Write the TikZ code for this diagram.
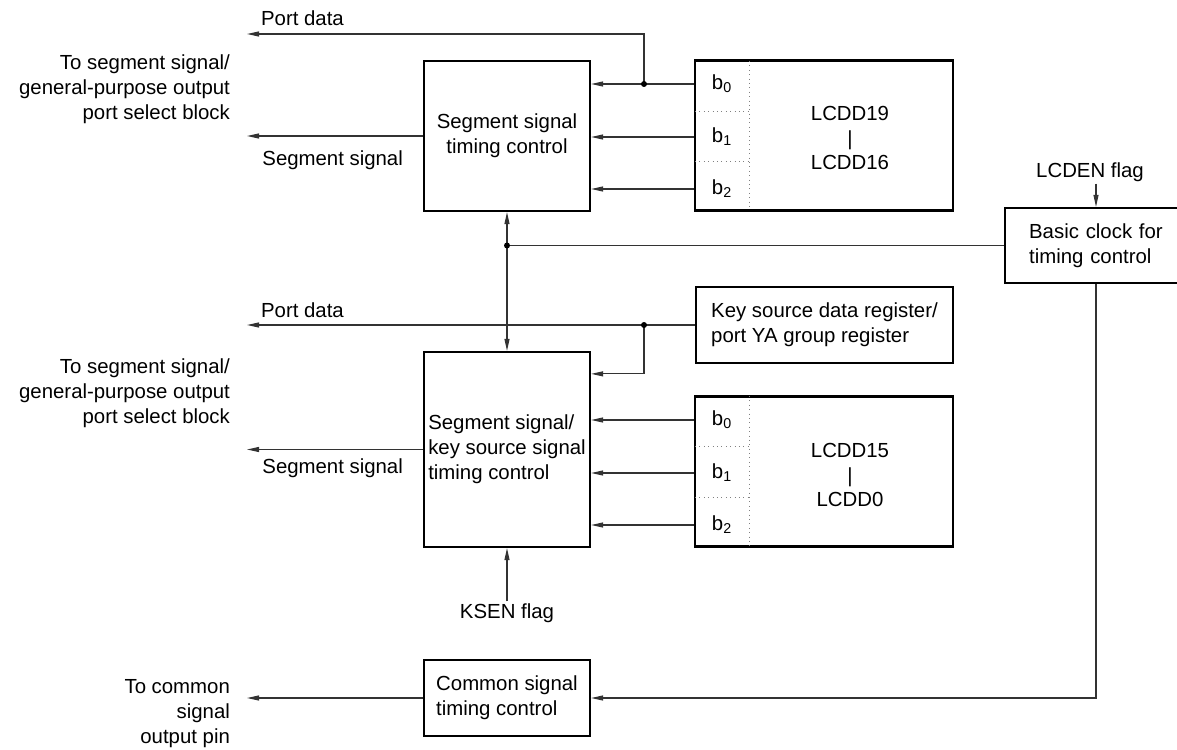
\documentclass[tikz,border=0pt]{standalone}
\usepackage{fontspec}
\setmainfont{Liberation Sans}
\usetikzlibrary{positioning,arrows.meta}
\definecolor{wire}{gray}{0.2}
\newcommand{\lbl}{\fontsize{11.6}{14.2}\selectfont}
\tikzset{
  blk/.style={draw, line width=1.3pt, minimum width=3.32cm, inner sep=2pt, font=\lbl},
  reg/.style={draw, line width=1.3pt, minimum width=5.16cm, minimum height=3cm},
  sig/.style={-{Triangle[length=2.4mm,width=1mm]}, wire, line width=0.6pt},
  bus/.style={sig, {Triangle[length=2.4mm,width=1mm]}-{Triangle[length=2.4mm,width=1mm]}},
  sep/.style={dotted, gray, line width=0.5pt},
  txt/.style={font=\lbl, inner sep=1pt}
}

\begin{document}
\begin{tikzpicture}[x=0.02cm, y=-0.02cm]
        \path[use as bounding box, clip] (0,0) rectangle (1177,750);
        % upper segment block
        \node[blk, minimum height=3cm, align=center] (seg1) at (507,136) {Segment signal\\timing control};
        \node[reg] (reg1) at (824,135.5) {};
        \node[txt] (r1b0) at (722,84) {b\textsubscript{0}};
        \node[txt] (r1b1) at (722,137) {b\textsubscript{1}};
        \node[txt] (r1b2) at (722,189) {b\textsubscript{2}};
        \node[txt, align=center] (r1n) at (850,138) {LCDD19\\|\\LCDD16};
        \draw[sep] (749,61) -- (749,210);
        \draw[sep] (695,111) -- (749,111); \draw[sep] (695,161) -- (749,161);
        % clock (runs off the right edge)
        \node[blk, anchor=west, inner xsep=0.48cm, text width=3.6cm, minimum height=1.5cm, align=left] (clk) at (1004,245.5) {Basic clock for\\timing control};
        \coordinate (ck) at (1096,0);
        \node[txt] (lcden) at (1090,172) {LCDEN flag};
        % lower segment block
        \node[blk, minimum width=5.14cm, minimum height=1.52cm, align=left] (key) at (824.5,325) {Key source data register/\\port YA group register};
        \node[blk, minimum height=3.9cm, align=left] (seg2) at (507,449.5) {Segment signal/\\key source signal\\timing control};
        \node[reg] (reg2) at (824,471.5) {};
        \node[txt] (r2b0) at (722,420) {b\textsubscript{0}};
        \node[txt] (r2b1) at (722,473) {b\textsubscript{1}};
        \node[txt] (r2b2) at (722,525) {b\textsubscript{2}};
        \node[txt, align=center] (r2n) at (850,475) {LCDD15\\|\\LCDD0};
        \draw[sep] (749,396) -- (749,547);
        \draw[sep] (695,446) -- (749,446); \draw[sep] (695,497) -- (749,497);
        \node[txt] (ksen) at (507,613) {KSEN flag};
        \node[blk, minimum height=1.52cm, align=left] (com) at (507,698) {Common signal\\timing control};
        % left side labels
        \node[txt, anchor=west] (pdl1) at (259,18) {Port data};
        \node[txt, anchor=east] (ssl1) at (405,160) {Segment signal};
        \node[txt, anchor=east, align=right] (out1) at (232,89) {To segment signal/\\general-purpose output\\port select block};
        \node[txt, anchor=west] (pdl2) at (259,310) {Port data};
        \node[txt, anchor=east] (ssl2) at (405,468) {Segment signal};
        \node[txt, anchor=east, align=right] (out2) at (232,393) {To segment signal/\\general-purpose output\\port select block};
        \node[txt, anchor=east, align=right] (out3) at (232,714) {To common\\signal\\output pin};
        \coordinate (pd1) at (247,34);
        \coordinate (ss1) at (247,136);
        \coordinate (pd2) at (247,325);
        \coordinate (ss2) at (247,449.5);
        \coordinate (co) at (247,698);
        \coordinate (j1) at (644,84);
        \coordinate (j2) at (seg1.south |- clk.west);
        \coordinate (j3) at (644,325);
        % connectors
        \draw[sig] (reg1.west |- r1b0) -- (seg1.east |- r1b0);
        \draw[sig] (reg1.west |- r1b1) -- (seg1.east |- r1b1);
        \draw[sig] (reg1.west |- r1b2) -- (seg1.east |- r1b2);
        \draw[sig] (j1) |- (pd1);
        \draw[sig] (seg1.west) -- (ss1);
        \draw[bus] (seg1.south) -- (seg2.north);
        \draw[wire, line width=0.6pt] (j2) -- (clk.west);
        \draw[sig] (lcden.south -| ck) -- (clk.north -| ck);
        \draw[sig] (key.west) -- (pd2);
        \draw[sig] (j3) |- ([yshift=-0.46cm]seg2.north east);
        \draw[sig] (reg2.west |- r2b0) -- (seg2.east |- r2b0);
        \draw[sig] (reg2.west |- r2b1) -- (seg2.east |- r2b1);
        \draw[sig] (reg2.west |- r2b2) -- (seg2.east |- r2b2);
        \draw[sig] (seg2.west) -- (ss2);
        \draw[sig] (ksen.north) -- (seg2.south);
        \draw[sig] (clk.south -| ck) |- (com.east);
        \draw[sig] (com.west) -- (co);
        \fill[black] (j1) circle[radius=1.7pt] (j2) circle[radius=1.7pt] (j3) circle[radius=1.7pt];
      \end{tikzpicture}
\end{document}
